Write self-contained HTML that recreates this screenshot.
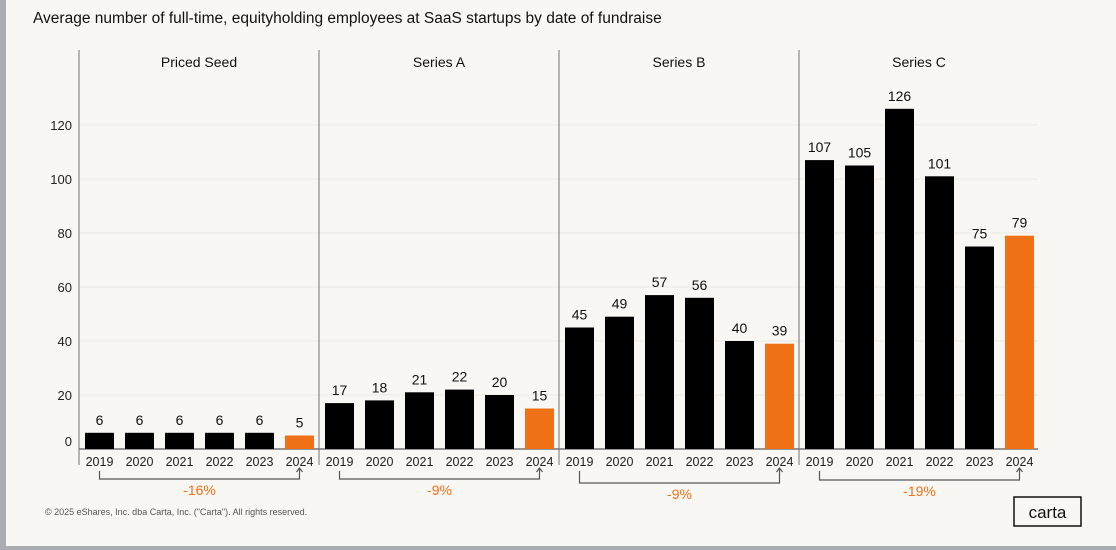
<!DOCTYPE html>
<html><head><meta charset="utf-8"><style>
body{margin:0;width:1116px;height:550px;overflow:hidden;background:#a9acb2;font-family:"Liberation Sans",sans-serif}
#card{position:absolute;left:6px;top:0;width:1110px;height:546px;background:#f9f7f3}
</style></head><body>
<div id="card"></div>
<svg id="c" width="1116" height="550" style="position:absolute;left:0;top:0"></svg>
<script>
const groups=["Priced Seed","Series A","Series B","Series C"];
const years=["2019","2020","2021","2022","2023","2024"];
const seed=[6,6,6,6,6,5];
const seriesA=[17,18,21,22,20,15];
const seriesB=[45,49,57,56,40,39];
const seriesC=[107,105,126,101,75,79];
const changes=["-16%","-9%","-9%","-19%"];
const yTicks=[0,20,40,60,80,100,120];
const all=[seed,seriesA,seriesB,seriesC];
const svg=document.getElementById('c');const NS='http://www.w3.org/2000/svg';
function mk(t,a,txt){const e=document.createElementNS(NS,t);for(const k in a)e.setAttribute(k,a[k]);if(txt!==undefined)e.textContent=txt;svg.appendChild(e);return e;}
const X0=79,PW=240,SLOT=40,BW=29;
const y=v=>449-v*2.7;
const bx=(g,i)=>X0+g*PW+i*SLOT+6;
let t=mk('text',{x:33,y:23,'font-size':15.5,fill:'#111'},'Average number of full-time, equityholding employees at SaaS startups by date of fundraise');

yTicks.forEach(v=>{
 if(v>0){const l=mk('line',{x1:X0,x2:1038,y1:y(v),y2:y(v),stroke:'#ebe8e2','stroke-width':1});}
 const e=mk('text',{x:72,y:(v===0?y(v)-3:y(v)+5),'font-size':13,fill:'#222','text-anchor':'end'},String(v));
 
});
for(let g=0;g<=4;g++){
 const x=X0+g*PW;
 if(g<4){const d=mk('line',{x1:x,x2:x,y1:50,y2:465,stroke:'#888','stroke-width':1.2});}
}
const ax=mk('line',{x1:X0,x2:1038,y1:449,y2:449,stroke:'#777','stroke-width':1.5});

groups.forEach((gname,g)=>{
 const h=mk('text',{x:X0+g*PW+PW/2,y:67,'font-size':14,fill:'#111','text-anchor':'middle'},gname);
 
 all[g].forEach((v,i)=>{
  const r=mk('rect',{x:bx(g,i),y:y(v),width:BW,height:449-y(v),fill:i===5?'#f07118':'#000'});
  
  const l=mk('text',{x:bx(g,i)+BW/2,y:y(v)-8,'font-size':14,fill:'#111','text-anchor':'middle'},String(v));
  
  const yl=mk('text',{x:bx(g,i)+BW/2,y:466,'font-size':12.5,fill:'#222','text-anchor':'middle'},years[i]);
  
 });
 const by=[479,479,483,480][g];
 const x1=bx(g,0)+BW/2,x2=bx(g,5)+BW/2;
 const p=mk('path',{d:`M${x1} 471 V${by} H${x2} V469 M${x2-3} 472 L${x2} 468 L${x2+3} 472`,fill:'none',stroke:'#555','stroke-width':1.2});
 
 const c=mk('text',{x:(x1+x2)/2,y:by+16,'font-size':14,fill:'#f07118','text-anchor':'middle'},changes[g]);
 
});
const f=mk('text',{x:45,y:515,'font-size':9,fill:'#555'},'© 2025 eShares, Inc. dba Carta, Inc. ("Carta"). All rights reserved.');

const lb=mk('rect',{x:1014,y:497,width:67,height:29,fill:'none',stroke:'#111','stroke-width':1.5});

const lt=mk('text',{x:1047.5,y:518,'font-size':17,fill:'#111','text-anchor':'middle'},'carta');

</script>
</body></html>
